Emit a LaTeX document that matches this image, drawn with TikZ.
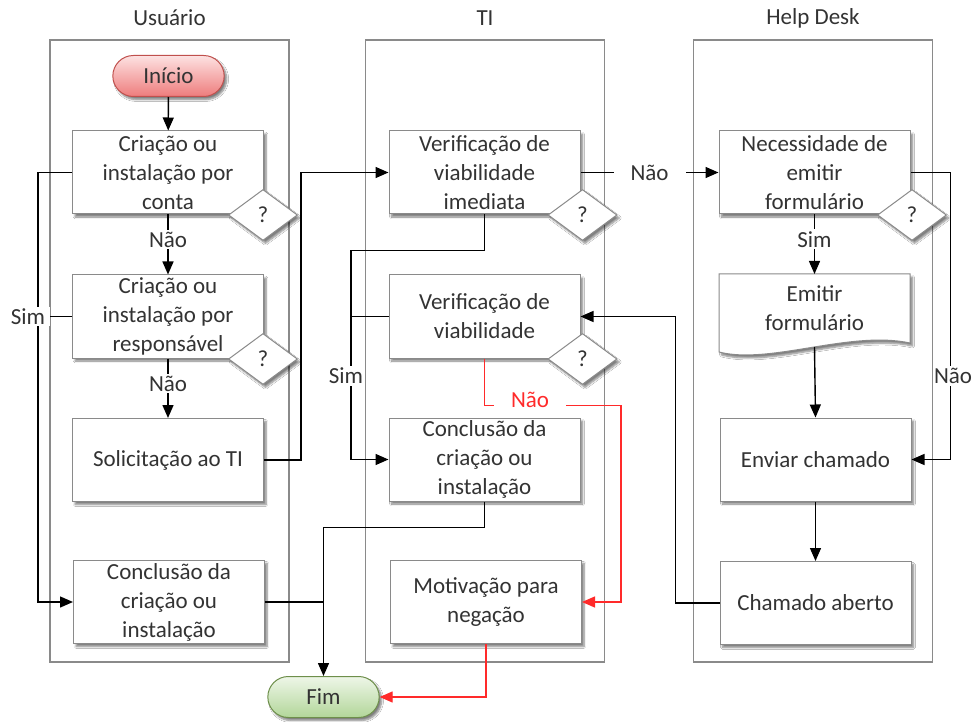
\documentclass[tikz,border=0pt]{standalone}
\usepackage{fontspec}
\setmainfont{Carlito}
\usetikzlibrary{arrows.meta,shapes.geometric,shapes.misc,shadows.blur}
\definecolor{txt}{HTML}{333333}
\definecolor{edge}{HTML}{8A8A8A}
\definecolor{nored}{HTML}{FF2A2A}
\definecolor{redtop}{HTML}{FDE2E2}
\definecolor{redbot}{HTML}{EE7C7C}
\definecolor{redline}{HTML}{C0504D}
\definecolor{grntop}{HTML}{EEF6E8}
\definecolor{grnbot}{HTML}{B2D699}
\definecolor{grnline}{HTML}{6E8F4B}
\begin{document}
\begin{tikzpicture}[x=1pt,y=-1pt,
  font=\fontsize{23}{29}\selectfont, text=txt,
  lane/.style={draw=edge, line width=1.2pt, rectangle, minimum width=239pt,
    minimum height=622pt, inner sep=0pt},
  ttl/.style={font=\fontsize{23}{25}\selectfont},
  shd/.style={blur shadow={shadow xshift=2.5pt, shadow yshift=-3pt,
    shadow blur steps=6, shadow opacity=50}},
  box/.style={draw=edge, fill=white, line width=1pt, rectangle,
    minimum width=191pt, minimum height=83pt, align=center, inner sep=2pt, shd},
  quest/.style={diamond, draw=edge, fill=white, line width=1pt, inner sep=0pt,
    minimum width=69pt, minimum height=51pt, shd},
  pill/.style={rounded rectangle, line width=1pt, minimum width=118pt,
    minimum height=41pt, shd},
  line/.style={draw=black, line width=1.4pt},
  tip/.style={-{Triangle[length=13pt,width=11pt]}},
  arr/.style={line, tip},
  redline/.style={draw=nored, line width=1.3pt},
  redarr/.style={redline, tip},
  lbl/.style={fill=white, inner sep=2pt, text=txt},
]
\fill[white] (0,0) rectangle (975,722);
\useasboundingbox (0,0) rectangle (975,722);

% swimlanes and their headings
\node[lane] (laneU) at (169.5,351) {};
\node[lane] (laneT) at (485,351) {};
\node[lane] (laneH) at (813,351) {};
\node[ttl] (ttlU) at (169.5,18) {Usuário};
\node[ttl] (ttlT) at (485,18) {TI};
\node[ttl] (ttlH) at (813,18) {Help Desk};

% terminals
\node[pill, draw=redline, top color=redtop, bottom color=redbot] (inicio) at (168.5,76) {Início};
\node[pill, draw=grnline, top color=grntop, bottom color=grnbot] (fim) at (323.5,697) {Fim};

% user lane
\node[box] (b1) at (168,172.5) {Criação ou\\instalação por\\conta};
\node[quest] (q1) at (263,215) {?};
\node[box] (b2) at (168,316.5) {Criação ou\\instalação por\\responsável};
\node[quest] (q2) at (263,359) {?};
\node[box] (b3) at (168,460) {Solicitação ao TI};
\node[box] (b4) at (169,602) {Conclusão da\\criação ou\\instalação};

% IT lane
\node[box] (t1) at (484.5,172.5) {Verificação de\\viabilidade\\imediata};
\node[quest] (q3) at (582.5,215) {?};
\node[box] (t2) at (484.5,316.5) {Verificação de\\viabilidade};
\node[quest] (q4) at (582.5,359) {?};
\node[box] (t3) at (484.5,459.5) {Conclusão da\\criação ou\\instalação};
\node[box] (t4) at (486,602) {Motivação para\\negação};

% help desk lane
\node[box] (h1) at (814.5,172.5) {Necessidade de\\emitir\\formulário};
\node[quest] (q5) at (912,215) {?};
\path[draw=edge, fill=white, line width=1pt, shd]
  (719,274) -- (910,274) -- (910,343)
  .. controls (850,330) and (770,365) .. (719,352) -- cycle;
\node[align=center] (h2) at (814.5,308) {Emitir\\formulário};
\coordinate (h2top) at (814.5,274);
\coordinate (h2bot) at (814.5,347);
\node[box] (h3) at (815.5,459.5) {Enviar chamado};
\node[box] (h4) at (815.5,603) {Chamado aberto};

% user lane connectors
\draw[arr] (inicio) -- (b1);
\draw[arr] (b1) -- node[lbl, pos=0.42] (n1) {Não} (b2);
\draw[arr] (b2) -- node[lbl, pos=0.42] (n2) {Não} (b3);
\draw[arr] (b1.west) -- ([xshift=-34pt]b1.west) |- (b4.west);
\draw[line] (b2.west) -- ([xshift=-34pt]b2.west);
\node[lbl, inner xsep=5pt] (s1) at (28,316.5) {Sim};
\draw[arr] (b3.east) -- ([xshift=37pt]b3.east) |- (t1.west);
\draw[line] (b4.east) -- (b4.east -| fim.north);

% IT lane connectors
\draw[arr] (t1.east) -- node[lbl, inner xsep=17pt] (n3) {Não} (h1.west);
\draw[arr] (t1.south) -- ++(0,36) -- ++(-133.5,0) |- (t3.west);
\draw[line] (t2.west) -- ([xshift=-38pt]t2.west);
\node[lbl, inner xsep=1pt] (s2) at (346,376) {Sim};
\draw[redarr] (t2.south) -- ++(0,47) -- ++(136.5,0) |- (t4.east);
\node[lbl, text=nored, inner xsep=17pt] (n4) at (530,400) {Não};
\draw[arr] (t3.south) -- ++(0,26) -| (fim.north);
\draw[redarr] (t4.south) |- (fim.east);

% help desk connectors
\draw[arr] (h1) -- node[lbl, pos=0.42] (s3) {Sim} (h2top);
\draw[arr] (h1.east) -- ([xshift=40pt]h1.east) |- (h3.east);
\node[lbl, inner xsep=1pt] (n5) at (953,376) {Não};
\draw[arr] (h2bot) -- (h3.north);
\draw[arr] (h3) -- (h4);
\draw[arr] (h4.west) -- ([xshift=-44pt]h4.west) |- (t2.east);
\end{tikzpicture}
\end{document}
